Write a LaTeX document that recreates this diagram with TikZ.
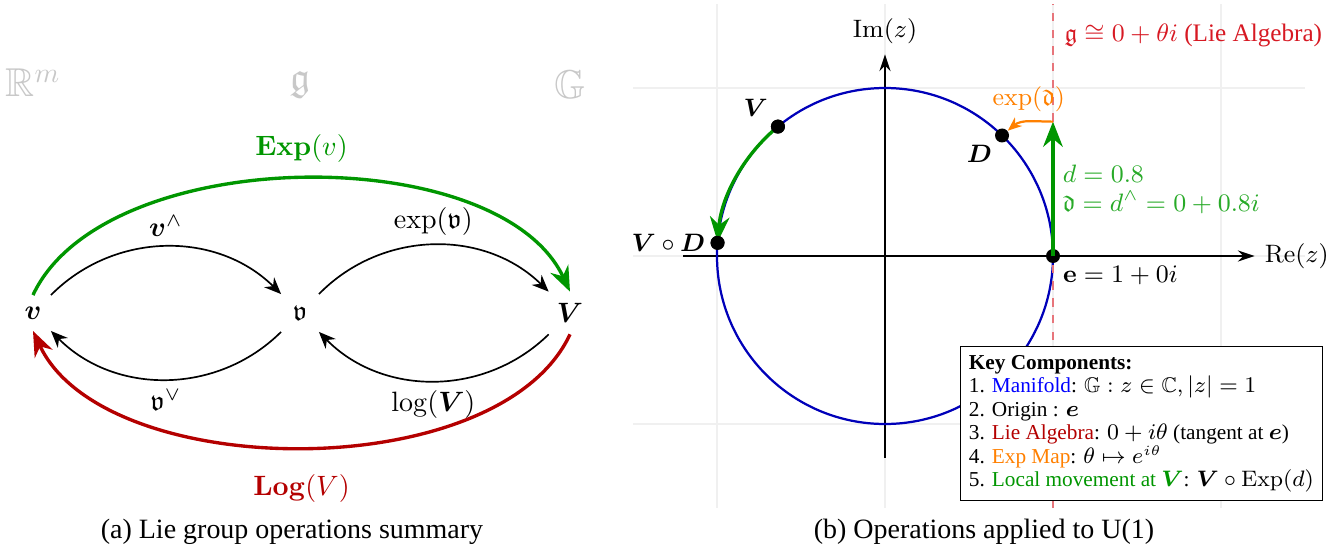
\documentclass[tikz,border=0pt]{standalone}
\usepackage{amsmath,amssymb}
\usepackage[no-math]{fontspec}
\setmainfont{Liberation Serif}
\usepackage{xcolor}
\usetikzlibrary{arrows.meta,positioning}

\definecolor{mapgreen}{RGB}{0,150,0}
\definecolor{labgreen}{RGB}{40,170,40}
\definecolor{mapred}{RGB}{180,0,0}
\definecolor{algred}{RGB}{215,25,35}
\definecolor{expor}{RGB}{255,128,0}
\definecolor{mfblue}{RGB}{0,0,185}
\definecolor{spacegray}{RGB}{200,200,200}

\begin{document}
\begin{tikzpicture}[x=1.256mm,y=1.256mm,
  elem/.style={inner sep=4pt},
  spacelbl/.style={text=spacegray,font=\Large},
  opmap/.style={semithick,-{Stealth[length=6pt,width=5pt]}},
  bigmap/.style={very thick,-{Stealth[length=9pt,width=7pt]}},
  gridln/.style={gray!12,thin},
  axisln/.style={semithick,-{Stealth[length=6pt,width=4pt]}},
  pt/.style={circle,fill=black,inner sep=0pt,minimum size=5pt},
  ptlbl/.style={inner sep=1.5pt,font=\small},
  keybox/.style={draw,fill=white,align=left,inner sep=3pt,font=\fontsize{7.6}{8.4}\selectfont}]
  \useasboundingbox (0,0) rectangle (133.8,55);

  % (a) summary of the operations
  \node[spacelbl] (Rm) at (3.3,46.7) {$\mathbb{R}^m$};
  \node[spacelbl] (alg) at (30,46.5) {$\mathfrak{g}$};
  \node[spacelbl] (grp) at (57,46.5) {$\mathbb{G}$};

  \node[elem] (v) at (3.3,23.7) {$\boldsymbol{v}$};
  \node[elem] (fv) at (30,23.7) {$\mathfrak{v}$};
  \node[elem] (V) at (57,23.7) {$\boldsymbol{V}$};

  \draw[opmap] (v) to[bend left=45] node[above]{$\boldsymbol{v}^\wedge$} (fv);
  \draw[opmap] (fv) to[bend left=45] node[above]{$\exp(\mathfrak{v})$} (V);
  \draw[opmap] (V) to[bend left=45] node[below]{$\log(\boldsymbol{V})$} (fv);
  \draw[opmap] (fv) to[bend left=45] node[below]{$\mathfrak{v}^\vee$} (v);

  \draw[bigmap,mapgreen] (v.north) to[out=65,in=115,looseness=0.8]
    node[midway,above=2pt]{$\mathbf{Exp}(v)$} (V.north);
  \draw[bigmap,mapred] (V.south) to[out=-115,in=-65,looseness=0.8]
    node[midway,below=6pt]{$\mathbf{Log}(V)$} (v.south);

  \node (capa) at (29.2,1.8) {(a) Lie group operations summary};

  % (b) U(1)
  \begin{scope}[shift={(88.5,29.4)},scale=16.8]
    \foreach \gx in {-1,0,1,2} \draw[gridln] (\gx,-1.5) -- (\gx,1.5);
    \foreach \gy in {-1,0,1} \draw[gridln] (-1.5,\gy) -- (2.5,\gy);

    \draw[axisln] (-1.2,0) -- (2.2,0) node[right,font=\small]{$\mathrm{Re}(z)$};
    \draw[axisln] (0,-1.2) -- (0,1.2) node[above,font=\small]{$\mathrm{Im}(z)$};

    \draw[mfblue,thick] (0,0) circle (1);
    \draw[algred!60,dashed] (1,-1.5) -- (1,1.5);
    \node[anchor=west,text=algred,font=\small] (algtxt) at (1.01,1.315)
      {$\mathfrak{g}\cong 0+\theta i$ (Lie Algebra)};

    \coordinate (dtip) at (1,0.8);
    \node[pt] (e) at (1,0) {};
    \node[pt] (D) at (45.84:1) {};
    \node[pt] (Vp) at (129.6:1) {};
    \node[pt] (VD) at (175.5:1) {};

    \draw[bigmap,mapgreen] (e.center) -- (dtip);
    \draw[bigmap,mapgreen] (Vp.center) arc[start angle=129.6,end angle=175.2,radius=1];
    \draw[thick,expor,-{Stealth[length=5pt,width=4pt]}] (dtip) to[out=180,in=40]
      node[midway,above,font=\small]{$\exp(\mathfrak{d})$} (D);
    \node[pt] at (VD) {};
    \node[pt] at (Vp) {};

    \node[anchor=west,text=labgreen,font=\small] (dval) at (1,0.49) {$d=0.8$};
    \node[anchor=west,text=labgreen,font=\small] (dhat) at (1,0.32)
      {$\mathfrak{d}=d^\wedge=0+0.8i$};

    \node[ptlbl,above left=0pt of Vp] (Vlbl) {$\boldsymbol{V}$};
    \node[ptlbl,below left=0pt of D] (Dlbl) {$\boldsymbol{D}$};
    \node[ptlbl,left=0pt of VD] (VDlbl) {$\boldsymbol{V}\circ\boldsymbol{D}$};
    \node[ptlbl,below right=0pt of e] (elbl) {$\mathbf{e}=1+0i$};

    \node[keybox,anchor=north west] (key) at (0.446,-0.536) {%
      \textbf{Key Components:}\\
      1. \textcolor{blue}{Manifold}: $\mathbb{G} : z\in\mathbb{C}, |z|=1$\\
      2. Origin : $\boldsymbol{e}$\\
      3. \textcolor{mapred}{Lie Algebra}: $0+i\theta$ (tangent at $\boldsymbol{e}$)\\
      4. \textcolor{expor}{Exp Map}: $\theta\mapsto e^{i\theta}$\\
      5. \textcolor{mapgreen}{Local movement at $\boldsymbol{V}$}: $\boldsymbol{V}\circ\mathrm{Exp}(d)$};
  \end{scope}

  \node (capb) at (98.4,1.8) {(b) Operations applied to U(1)};
\end{tikzpicture}
\end{document}
